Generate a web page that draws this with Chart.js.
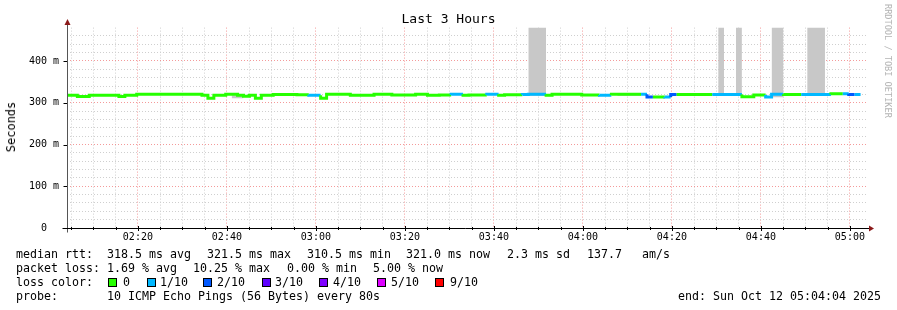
<!DOCTYPE html>
<html><head><meta charset="utf-8">
<script src="https://cdn.jsdelivr.net/npm/chart.js@4.4.0/dist/chart.umd.min.js"></script>
<style>
html,body{margin:0;padding:0;background:#fff;}
#wrap{position:relative;width:897px;height:310px;overflow:hidden;font-family:'DejaVu Sans Mono',monospace;background:#fff;}
#c{position:absolute;left:0;top:0;}
.t{position:absolute;font-size:11.63px;line-height:14px;white-space:pre;color:#000;}
.sq{position:absolute;width:9px;height:9px;border:1px solid #000;box-sizing:border-box;}
#ytitle{position:absolute;left:11px;top:127px;transform:translate(-50%,-50%) rotate(-90deg);font-size:12px;white-space:pre;color:#000;}
#wm{position:absolute;left:883px;top:4px;writing-mode:vertical-rl;font-size:8.6px;color:#b4b4b4;white-space:pre;}
</style></head>
<body>
<div id="wrap">
<canvas id="c" width="897" height="310"></canvas>
<div id="ytitle">Seconds</div>
<div id="wm">RRDTOOL / TOBI OETIKER</div>
<div id="legend"></div>
</div>
<script>
// ---- data ----
const rangeStart = "02:04:04";
const rangeEnd   = "05:04:04";
// median RTT step segments: start time, value (ms), lost pings out of 10
const segStart = ["02:03:44","02:06:24","02:09:04","02:15:44","02:17:04","02:19:44","02:34:24","02:35:44","02:37:04","02:39:44",
  "02:42:24","02:43:44","02:45:04","02:46:24","02:47:44","02:50:24","02:55:44","02:58:24","03:01:04","03:02:24",
  "03:07:44","03:13:04","03:17:04","03:22:24","03:25:04","03:27:44","03:30:24","03:33:04","03:34:24","03:38:24",
  "03:41:04","03:42:24","03:46:24","03:47:44","03:51:44","03:53:04","03:59:44","04:03:44","04:06:24","04:07:44",
  "04:13:04","04:14:24","04:15:44","04:18:24","04:19:44","04:21:04","04:29:04","04:35:44","04:38:24","04:41:04",
  "04:42:24","04:45:04","04:49:04","04:55:44","04:58:24","04:59:44","05:01:04"];
const medianMs = [315,318,315,318,315,318,320.5,318,311,318,
  320.5,318,315.5,318,311,318,320,319,318,311,
  320.5,318,320.5,318.5,320.5,318,318.5,320.5,318,318.5,
  320.5,318,319,320,320.5,318,320.5,318.5,318,320.5,
  320.5,320.5,314,314,313.5,320,320,320,314.5,318.5,
  313.5,320.5,320,320,321.5,321.5,319.5];
const lossCount = [0,0,0,0,0,0,0,0,0,0,
  0,0,0,0,0,0,0,1,0,0,
  0,0,0,0,0,0,1,0,0,1,
  0,0,1,1,0,0,0,1,0,0,
  1,2,0,1,2,0,1,0,0,1,
  1,0,1,0,1,2,1];
const seriesEnd = "05:02:24";
// smoke (ping spread) segments
const smokeStart = ["02:41:04","02:55:44","03:10:24","03:17:04","03:47:44","04:07:44","04:21:04","04:30:24","04:34:24","04:42:24","04:49:04","04:50:24"];
const smokeEnd   = ["02:43:44","02:58:24","03:11:44","03:19:44","03:51:44","04:13:04","04:29:04","04:31:44","04:35:44","04:45:04","04:55:44","04:54:24"];
const smokeLowMs = [311,316,316,316,316,316,316,316,316,313,316,316];
const smokeHighMs= [318,320,320.5,320.5,520,320.5,320,520,520,520,320,520];
const yMaxMs = 480;
const lossLabels = ["0","1/10","2/10","3/10","4/10","5/10","9/10"];
const lossColors = ["#26ff00","#00b8ff","#0059ff","#5e00ff","#7e00ff","#dd00ff","#ff0000"];
const statsRtt  = ["median rtt:","318.5 ms avg","321.5 ms max","310.5 ms min","321.0 ms now","2.3 ms sd","137.7","am/s"];
const statsLoss = ["packet loss:","1.69 % avg","10.25 % max","0.00 % min","5.00 % now"];
const probeText = ["probe:","10 ICMP Echo Pings (56 Bytes) every 80s"];
const endText = "end: Sun Oct 12 05:04:04 2025";

// ---- helpers ----
function toSec(s){const p=s.split(':').map(Number);return p[0]*3600+p[1]*60+p[2];}
function fmt(sec){const h=Math.floor(sec/3600),m=Math.floor(sec%3600/60);return String(h).padStart(2,'0')+':'+String(m).padStart(2,'0');}

// ---- HTML text (legend / stats) ----
const L=document.getElementById('legend');
function addText(txt,x,top){const d=document.createElement('div');d.className='t';d.textContent=txt;d.style.left=x+'px';d.style.top=top+'px';L.appendChild(d);}
const rttX=[16,107,207,307,406,507,587,642];
statsRtt.forEach((s,i)=>addText(s,rttX[i],247));
const lossX=[16,107,193,287,373];
statsLoss.forEach((s,i)=>addText(s,lossX[i],261));
addText("loss color:",16,275);
const sqX=[108,147,203,262,319,377,435], lbX=[123,160,217,275,333,391,450];
lossLabels.forEach((lb,i)=>{const q=document.createElement('div');q.className='sq';q.style.left=sqX[i]+'px';q.style.top='278px';q.style.background=lossColors[i];L.appendChild(q);addText(lb,lbX[i],275);});
addText(probeText[0],16,289);addText(probeText[1],107,289);
addText(endText,678,289);

// ---- datasets ----
const lossColorIdx = n => n>=9?6:Math.min(n,5);
const medianPts = segStart.map((t,i)=>({x:toSec(t),y:medianMs[i]/1000}));
medianPts.push({x:toSec(seriesEnd),y:medianMs[medianMs.length-1]/1000});
const datasets=[{
  data:medianPts, stepped:'after', borderWidth:3, pointRadius:0, fill:false,
  borderColor:lossColors[0], borderCapStyle:'butt',
  segment:{borderColor:ctx=>lossColors[lossColorIdx(lossCount[Math.min(ctx.p0DataIndex,lossCount.length-1)])]}
}];
smokeStart.forEach((s,i)=>{
  datasets.push({data:[{x:toSec(s),y:smokeHighMs[i]/1000},{x:toSec(smokeEnd[i]),y:smokeHighMs[i]/1000}],
    borderWidth:0,pointRadius:0,backgroundColor:'#c8c8c8',fill:{value:smokeLowMs[i]/1000}});
});

const xMin=toSec(rangeStart), xMax=toSec(rangeEnd);
const mono='DejaVu Sans Mono';
const isMajorY=v=>Math.round(v*1000)%100===0;
const minorGrid='#cfcfcf', majorGrid='rgba(240,120,120,0.75)';

const axesPlugin={id:'axes',afterDraw(chart){
  const {ctx,chartArea:a,scales:{x,y}}=chart;
  ctx.save();
  ctx.lineWidth=1;
  ctx.strokeStyle='#000';
  x.ticks.forEach(t=>{const px=Math.round(x.getPixelForValue(t.value))+0.5;const mj=t.value%1200===0;
    ctx.beginPath();ctx.moveTo(px,Math.round(a.bottom)-(mj?2:1));ctx.lineTo(px,Math.round(a.bottom)+(mj?3:2));ctx.stroke();});
  const L0=Math.round(a.left)+0.5, B0=Math.round(a.bottom)+0.5;
  y.ticks.forEach(t=>{if(!isMajorY(t.value))return;const py=Math.round(y.getPixelForValue(t.value))+0.5;
    ctx.beginPath();ctx.moveTo(L0-4,py);ctx.lineTo(L0,py);ctx.stroke();});
  ctx.strokeStyle='#555';
  ctx.beginPath();ctx.moveTo(L0,B0+4);ctx.lineTo(L0,Math.round(a.top)-5);ctx.stroke();
  ctx.strokeStyle='#000';
  ctx.beginPath();ctx.moveTo(L0-5,B0);ctx.lineTo(Math.round(a.right)+1,B0);ctx.stroke();
  ctx.fillStyle='#8b1a1a';
  ctx.beginPath();ctx.moveTo(L0,Math.round(a.top)-9);ctx.lineTo(L0-3,Math.round(a.top)-3);ctx.lineTo(L0+3,Math.round(a.top)-3);ctx.closePath();ctx.fill();
  const R=Math.round(a.right)+1;
  ctx.beginPath();ctx.moveTo(R+5,B0);ctx.lineTo(R,B0-3);ctx.lineTo(R,B0+3);ctx.closePath();ctx.fill();
  ctx.restore();
}};

new Chart(document.getElementById('c'),{
  type:'line',
  data:{datasets},
  plugins:[axesPlugin],
  options:{
    responsive:false, animation:false, devicePixelRatio:1,
    layout:{padding:{left:29,right:29,top:0,bottom:62}},
    plugins:{
      legend:{display:false}, tooltip:{enabled:false},
      title:{display:true,text:'Last 3 Hours',color:'#000',font:{family:mono,size:13,weight:'normal'},padding:{top:12,bottom:0}}
    },
    scales:{
      x:{type:'linear',min:xMin,max:xMax,
        afterFit:s=>{s.height=20;},
        afterBuildTicks:s=>{const t=[];for(let v=Math.ceil(xMin/300)*300;v<=xMax;v+=300)t.push({value:v});s.ticks=t;},
        ticks:{autoSkip:false,maxRotation:0,minRotation:0,padding:3,color:'#000',font:{family:mono,size:10},
          callback:v=>v%1200===0?fmt(v):''},
        grid:{drawTicks:false,lineWidth:1,color:c=>(c.tick&&c.tick.value%1200===0)?majorGrid:minorGrid},
        border:{display:false,dash:[1,2]}
      },
      y:{type:'linear',min:0,max:yMaxMs/1000,
        afterFit:s=>{s.width=38;},
        afterBuildTicks:s=>{const t=[];for(let m=0;m<yMaxMs;m+=20)t.push({value:m/1000});s.ticks=t;},
        ticks:{autoSkip:false,padding:8,color:'#000',font:{family:mono,size:10},
          callback:v=>{const m=Math.round(v*1000);if(m===0)return '0  ';return m%100===0?m+' m':'';}},
        grid:{drawTicks:false,lineWidth:1,color:c=>{if(!c.tick)return minorGrid;const m=Math.round(c.tick.value*1000);if(m===0)return 'rgba(0,0,0,0)';return m%100===0?majorGrid:minorGrid;}},
        border:{display:false,dash:[1,2]}
      }
    }
  }
});
</script>
</body></html>
